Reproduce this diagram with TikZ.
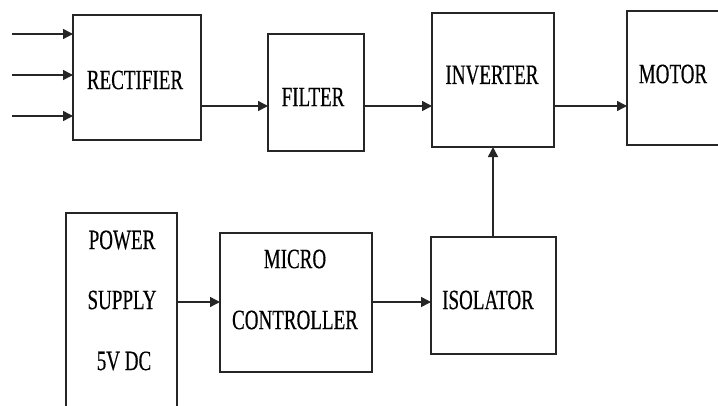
\documentclass[tikz,border=0pt]{standalone}
\usepackage{fontspec}
\setmainfont{Liberation Serif}[FakeStretch=0.68,FakeBold=0.35]
\usetikzlibrary{arrows.meta}
\begin{document}
\begin{tikzpicture}[x=1pt,y=-1pt,
  blk/.style={draw=black!85,line width=1.5pt,fill=white,inner sep=0pt,outer sep=0pt},
  lbl/.style={inner sep=0pt,font=\fontsize{28}{30}\selectfont,text=black},
  arr/.style={draw=black!85,line width=1.5pt,-{Triangle[length=10pt,width=10pt]}}]
\path[use as bounding box] (0,0) rectangle (718,405);
\clip (0,0) rectangle (718,405);
% boxes
\node[blk,minimum width=128pt,minimum height=125pt] (rect) at (137,77.5) {};
\node[blk,minimum width=96pt,minimum height=117pt] (filt) at (316,92.5) {};
\node[blk,minimum width=122pt,minimum height=134pt] (inv) at (493,80) {};
\node[blk,minimum width=103pt,minimum height=134pt] (mot) at (678.5,78) {};
\node[blk,minimum width=111pt,minimum height=207pt] (ps) at (121.5,316.5) {};
\node[blk,minimum width=152pt,minimum height=139pt] (mc) at (296,302.5) {};
\node[blk,minimum width=125pt,minimum height=117pt] (iso) at (493.5,295.5) {};
% labels
\node[lbl] (trect) at (135,80) {RECTIFIER};
\node[lbl] (tfilt) at (313,97) {FILTER};
\node[lbl] (tinv) at (492,75) {INVERTER};
\node[lbl] (tmot) at (673,74) {MOTOR};
\node[lbl] (tps1) at (122,240) {POWER};
\node[lbl] (tps2) at (122,300) {SUPPLY};
\node[lbl] (tps3) at (124,361) {5V DC};
\node[lbl] (tmc1) at (295,259) {MICRO};
\node[lbl] (tmc2) at (295,320) {CONTROLLER};
\node[lbl] (tiso) at (488,300) {ISOLATOR};
% input arrows
\coordinate (in1) at (12,34);
\coordinate (in2) at (12,75);
\coordinate (in3) at (12,116);
\draw[arr] (in1) -- (rect.west |- in1);
\draw[arr] (in2) -- (rect.west |- in2);
\draw[arr] (in3) -- (rect.west |- in3);
% main path
\coordinate (ya) at (0,106);
\draw[arr] (rect.east |- ya) -- (filt.west |- ya);
\draw[arr] (filt.east |- ya) -- (inv.west |- ya);
\draw[arr] (inv.east |- ya) -- (mot.west |- ya);
% control path
\coordinate (yb) at (0,302);
\draw[arr] (ps.east |- yb) -- (mc.west |- yb);
\draw[arr] (mc.east |- yb) -- (iso.west |- yb);
\draw[arr] (inv.south |- iso.north) -- (inv.south);
\end{tikzpicture}
\end{document}
